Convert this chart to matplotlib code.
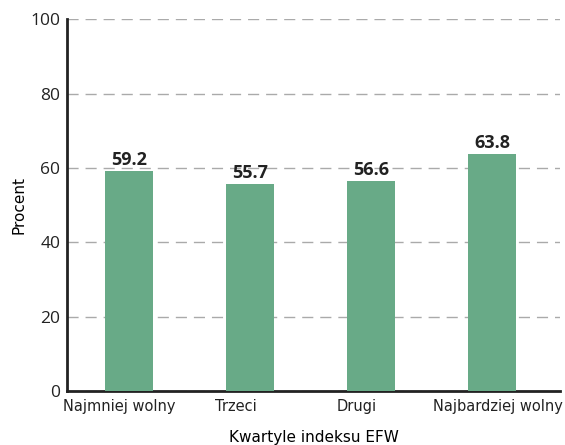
import matplotlib.pyplot as plt
from matplotlib.transforms import ScaledTranslation

# Daten
kategorien = ["Najmniej wolny", "Trzeci", "Drugi", "Najbardziej wolny"]
werte = [59.2, 55.7, 56.6, 63.8]
yticks = [0, 20, 40, 60, 80, 100]

farbe = "#68AA87"

fig = plt.figure(figsize=(5.65, 4.45), dpi=100)
ax = fig.add_axes([0.119, 0.121, 0.872, 0.836])

x = list(range(len(kategorien)))
ax.bar(x, werte, width=0.4, color=farbe, zorder=3)

# Werte über Balken
for xi, v in zip(x, werte):
    ax.text(xi, v + 0.5, f"{v:.1f}", ha="center", va="bottom",
            fontsize=13, fontweight="bold", color="#222222",
            family="Open Sans", zorder=4)

# Achsen
ax.set_xlim(-0.512, 3.56)
ax.set_ylim(0, 100)
ax.set_yticks(yticks)
ax.set_yticklabels([str(t) for t in yticks], fontsize=12.5, family="Open Sans", color="#222222")
ax.set_xticks(x)
ax.set_xticklabels(kategorien, fontsize=10.5, family="DejaVu Sans", color="#222222")
ax.tick_params(axis="y", length=0, pad=5)
ax.tick_params(axis="x", length=0, pad=6)

# Beschriftungen leicht nach links verschoben wie im Original
versatz = [-10, -14, -14, 6]
for lbl, dx in zip(ax.get_xticklabels(), versatz):
    lbl.set_transform(lbl.get_transform() + ScaledTranslation(dx / 100, 0, fig.dpi_scale_trans))

ax.yaxis.grid(True, linestyle=(0, (8, 5)), color="#aaaaaa", linewidth=1, zorder=0)
for s in ["top", "right"]:
    ax.spines[s].set_visible(False)
ax.spines["left"].set_linewidth(2)
ax.spines["bottom"].set_linewidth(2)
ax.spines["left"].set_color("#222222")
ax.spines["bottom"].set_color("#222222")

ax.set_ylabel("Procent", fontsize=11, family="DejaVu Sans", labelpad=3)
ax.set_xlabel("Kwartyle indeksu EFW", fontsize=11, family="DejaVu Sans", labelpad=11)

plt.savefig("out.png", dpi=100)
